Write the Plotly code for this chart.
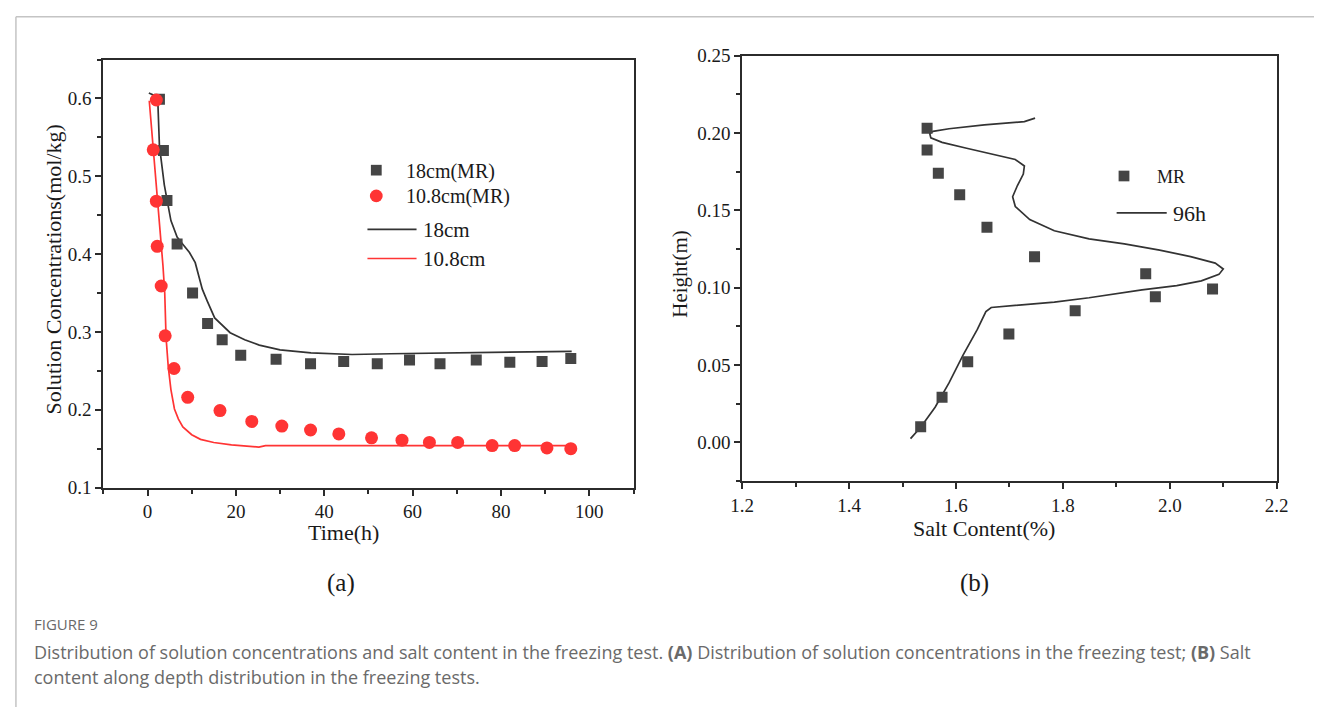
import plotly.graph_objects as go

W, H = 1326, 718

# ---- (a) solution concentration vs time ----
t_18_mr = [2.7, 3.6, 4.4, 6.7, 10.2, 13.6, 16.9, 21.1, 29.1, 36.9, 44.4, 52.0, 59.3, 66.2, 74.4, 82.0, 89.3, 95.8]
c_18_mr = [0.599, 0.533, 0.469, 0.413, 0.350, 0.311, 0.290, 0.270, 0.265, 0.259, 0.262, 0.259, 0.264, 0.259, 0.264, 0.261, 0.262, 0.266]

t_108_mr = [2.0, 1.3, 2.0, 2.2, 3.1, 4.0, 6.0, 9.1, 16.4, 23.6, 30.4, 36.9, 43.3, 50.7, 57.6, 63.8, 70.2, 78.0, 83.1, 90.4, 95.8]
c_108_mr = [0.598, 0.534, 0.468, 0.410, 0.359, 0.295, 0.253, 0.216, 0.199, 0.185, 0.179, 0.174, 0.169, 0.164, 0.161, 0.158, 0.158, 0.154, 0.154, 0.151, 0.150]

t_18_sim = [0.3, 2.3, 2.7, 3.8, 5.3, 6.7, 7.8, 9.5, 10.8, 11.5, 12.4, 13.5, 15.2, 18.7, 22.0, 25.3, 30.0, 37.0, 46.3, 55.0, 67.0, 80.0, 96.0]
c_18_sim = [0.607, 0.602, 0.539, 0.489, 0.443, 0.422, 0.414, 0.402, 0.389, 0.375, 0.355, 0.340, 0.318, 0.299, 0.290, 0.283, 0.277, 0.273, 0.271, 0.272, 0.273, 0.274, 0.275]

t_108_sim = [0.4, 1.2, 2.0, 2.8, 3.5, 3.9, 4.2, 4.7, 5.3, 6.1, 7.0, 8.0, 10.0, 12.0, 15.0, 19.0, 25.2, 26.7, 40.0, 60.0, 80.0, 96.0]
c_108_sim = [0.597, 0.545, 0.490, 0.435, 0.385, 0.350, 0.293, 0.255, 0.226, 0.201, 0.188, 0.178, 0.168, 0.162, 0.158, 0.155, 0.152, 0.154, 0.154, 0.154, 0.154, 0.154]

# ---- (b) salt content along height ----
salt_mr = [1.546, 1.546, 1.567, 1.607, 1.658, 1.747, 1.955, 2.080, 1.973, 1.823, 1.699, 1.622, 1.574, 1.534]
height_mr = [0.203, 0.189, 0.174, 0.160, 0.139, 0.120, 0.109, 0.099, 0.094, 0.085, 0.070, 0.052, 0.029, 0.010]

salt_96h = [1.748, 1.728, 1.653, 1.587, 1.557, 1.551, 1.553, 1.574, 1.620, 1.672, 1.711, 1.728, 1.726,
            1.715, 1.706, 1.711, 1.738, 1.784, 1.849, 1.915, 1.981, 2.039, 2.085, 2.100, 2.092, 2.059,
            2.013, 1.948, 1.915, 1.849, 1.784, 1.718, 1.666, 1.656, 1.640, 1.613, 1.587, 1.561, 1.534, 1.515]
height_96h = [0.2096, 0.2073, 0.2052, 0.2027, 0.2010, 0.1996, 0.1968, 0.1939, 0.1901, 0.1859, 0.1828, 0.1786, 0.1734,
              0.1660, 0.1587, 0.1524, 0.1440, 0.1367, 0.1315, 0.1283, 0.1242, 0.1200, 0.1158, 0.1120, 0.1085, 0.1043,
              0.1013, 0.0985, 0.0968, 0.0934, 0.0906, 0.0888, 0.0871, 0.0844, 0.0729, 0.0561, 0.0383, 0.0226, 0.0096, 0.0023]

SERIF = "Liberation Serif"
AX = "#2b2b2b"
DARK = "#454545"
RED = "#ff3434"


def px(x):
    return x / W


def py(y):
    return 1 - y / H


fig = go.Figure()

fig.add_trace(go.Scatter(x=t_18_sim, y=c_18_sim, mode="lines", line=dict(color="#333333", width=1.7),
                         xaxis="x", yaxis="y", name="18cm"))
fig.add_trace(go.Scatter(x=t_108_sim, y=c_108_sim, mode="lines", line=dict(color=RED, width=1.7),
                         xaxis="x", yaxis="y", name="10.8cm"))
fig.add_trace(go.Scatter(x=t_18_mr, y=c_18_mr, mode="markers",
                         marker=dict(symbol="square", size=11, color=DARK),
                         xaxis="x", yaxis="y", name="18cm(MR)"))
fig.add_trace(go.Scatter(x=t_108_mr, y=c_108_mr, mode="markers",
                         marker=dict(symbol="circle", size=13, color=RED),
                         xaxis="x", yaxis="y", name="10.8cm(MR)"))

fig.add_trace(go.Scatter(x=salt_96h, y=height_96h, mode="lines", line=dict(color="#333333", width=1.7),
                         xaxis="x2", yaxis="y2", name="96h"))
fig.add_trace(go.Scatter(x=salt_mr, y=height_mr, mode="markers",
                         marker=dict(symbol="square", size=11, color=DARK),
                         xaxis="x2", yaxis="y2", name="MR"))

axis_common = dict(
    showline=True, linecolor=AX, linewidth=1.8, mirror=True,
    ticks="outside", ticklen=6, tickwidth=1.5, tickcolor=AX,
    showgrid=False, zeroline=False,
    tickfont=dict(family=SERIF, size=19, color="#1a1a1a"),
)

fig.update_layout(
    width=W, height=H,
    margin=dict(l=0, r=0, t=0, b=0),
    paper_bgcolor="white", plot_bgcolor="white",
    showlegend=False,
    xaxis=dict(domain=[px(93), px(633)], anchor="y", range=[-10, 110], tickvals=[0, 20, 40, 60, 80, 100],
               minor=dict(dtick=10, tick0=0, ticks="outside", ticklen=4, tickwidth=1.5, tickcolor=AX),
               **axis_common),
    yaxis=dict(domain=[py(492), py(51)], anchor="x", range=[0.1, 0.65],
               tickvals=[0.1, 0.2, 0.3, 0.4, 0.5, 0.6], tickformat=".1f",
               minor=dict(dtick=0.05, tick0=0.1, ticks="outside", ticklen=4, tickwidth=1.5, tickcolor=AX),
               **axis_common),
    xaxis2=dict(domain=[px(743.6), px(1288)], anchor="y2", range=[1.2, 2.2],
                tickvals=[1.2, 1.4, 1.6, 1.8, 2.0, 2.2], tickformat=".1f",
                minor=dict(dtick=0.1, tick0=1.2, ticks="outside", ticklen=4, tickwidth=1.5, tickcolor=AX),
                **axis_common),
    yaxis2=dict(domain=[py(485), py(47)], anchor="x2", range=[-0.025, 0.25],
                tickvals=[0, 0.05, 0.1, 0.15, 0.2, 0.25], tickformat=".2f",
                minor=dict(dtick=0.025, tick0=0, ticks="outside", ticklen=4, tickwidth=1.5, tickcolor=AX),
                **axis_common),
)

shapes = []
annotations = []


def label(x, y, text, size, angle=0, xanchor="center", color="#1a1a1a", family=SERIF):
    annotations.append(dict(x=px(x), y=py(y), xref="paper", yref="paper", text=text, showarrow=False,
                            xanchor=xanchor, yanchor="middle", textangle=angle,
                            font=dict(family=family, size=size, color=color)))


# axis titles and panel tags
label(42, 267, "Solution Concentrations(mol/kg)", 22, angle=-90)
label(338, 538, "Time(h)", 22)
label(680, 272, "Height(m)", 21, angle=-90)
label(990, 534, "Salt Content(%)", 22)
label(335, 590, "(a)", 25)
label(980, 590, "(b)", 25)

# legend of panel (a)
shapes.append(dict(type="rect", xref="paper", yref="paper",
                   x0=px(365.5), x1=px(376.5), y0=py(170.5), y1=py(159.5),
                   fillcolor=DARK, line=dict(width=0)))
shapes.append(dict(type="circle", xref="paper", yref="paper",
                   x0=px(364.5), x1=px(377.5), y0=py(198), y1=py(185),
                   fillcolor=RED, line=dict(width=0)))
shapes.append(dict(type="line", xref="paper", yref="paper",
                   x0=px(362), x1=px(412), y0=py(226), y1=py(226),
                   line=dict(color="#333333", width=1.7)))
shapes.append(dict(type="line", xref="paper", yref="paper",
                   x0=px(362), x1=px(412), y0=py(256), y1=py(256),
                   line=dict(color=RED, width=1.7)))
label(399, 166, "18cm(MR)", 20, xanchor="left")
label(399, 192, "10.8cm(MR)", 20, xanchor="left")
label(417, 227, "18cm", 21, xanchor="left")
label(417, 256, "10.8cm", 21, xanchor="left")

# legend of panel (b)
shapes.append(dict(type="rect", xref="paper", yref="paper",
                   x0=px(1127), x1=px(1138), y0=py(176.5), y1=py(165.5),
                   fillcolor=DARK, line=dict(width=0)))
shapes.append(dict(type="line", xref="paper", yref="paper",
                   x0=px(1125), x1=px(1176), y0=py(209), y1=py(209),
                   line=dict(color="#333333", width=1.7)))
label(1164, 172, "MR", 18, xanchor="left")
label(1180, 210, "96h", 22, xanchor="left")

# page frame
shapes.append(dict(type="line", xref="paper", yref="paper", x0=px(4), x1=1.0, y0=py(7), y1=py(7),
                   line=dict(color="#c4c4c4", width=1.5)))
shapes.append(dict(type="line", xref="paper", yref="paper", x0=px(4), x1=px(4), y0=py(7), y1=0.0,
                   line=dict(color="#c4c4c4", width=1.5)))

# caption
CAP = "Open Sans"
CAPC = "#6a6a6a"
label(20, 633, "FIGURE 9", 15, xanchor="left", color=CAPC, family=CAP)
label(20, 661, "Distribution of solution concentrations and salt content in the freezing test. <b>(A)</b> "
               "Distribution of solution concentrations in the freezing test; <b>(B)</b> Salt",
      18, xanchor="left", color=CAPC, family=CAP)
label(20, 687, "content along depth distribution in the freezing tests.", 18, xanchor="left",
      color=CAPC, family=CAP)

fig.update_layout(shapes=shapes, annotations=annotations)

fig.write_html("out.html", post_script="document.body.style.margin='0';")
